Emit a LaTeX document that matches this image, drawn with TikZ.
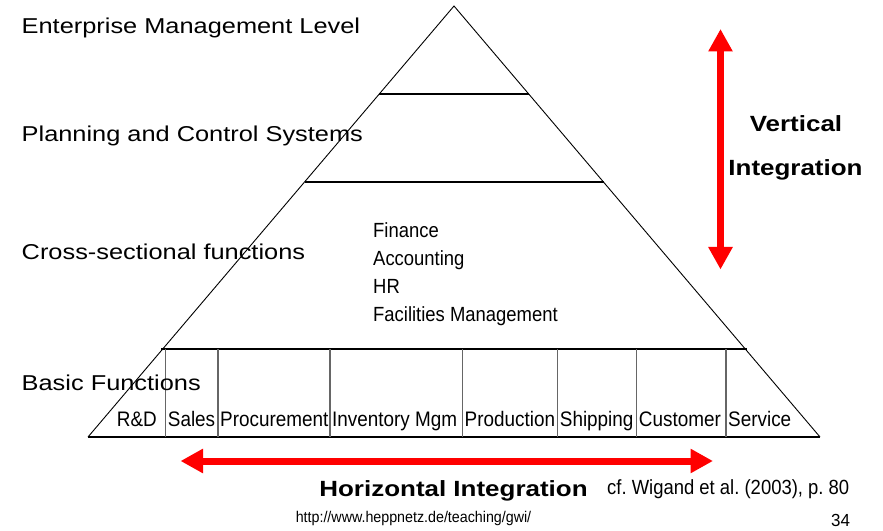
\documentclass[tikz,border=0pt]{standalone}
\usepackage{fontspec}
\setmainfont{Liberation Sans}
\newfontfamily\labfont[FakeStretch=1.18]{Liberation Sans}
\newfontfamily\narfont[FakeStretch=0.9]{Liberation Sans}
\usetikzlibrary{arrows.meta}
\frenchspacing
\tikzset{
  lvl/.style={font=\labfont\fontsize{21.5bp}{26bp}\selectfont, anchor=base west, inner sep=0pt},
  inner/.style={font=\narfont\fontsize{20.5bp}{24bp}\selectfont, anchor=base west, inner sep=0pt},
  cell/.style={font=\narfont\fontsize{21bp}{24bp}\selectfont, anchor=base west, inner sep=0pt},
  integ/.style={font=\labfont\bfseries\fontsize{22bp}{26bp}\selectfont, anchor=base, inner sep=0pt},
  side/.style={black, line width=0.9bp},
  levelline/.style={black, line width=1.8bp},
  divider/.style={black!60, line width=1.3bp},
  bigarrow/.style={red, line width=7bp, {Triangle[length=22.5bp,width=23bp]}-{Triangle[length=22.5bp,width=23bp]}},
}
\begin{document}
\begin{tikzpicture}[x=1bp, y=-1bp]
\useasboundingbox (0,0) rectangle (883,531);
% pyramid corners
\coordinate (apex) at (454,6);
\coordinate (bl) at (88,437);
\coordinate (br) at (820,437);
% level line end points
\coordinate (l1a) at (379.3,94);  \coordinate (l1b) at (528.7,94);
\coordinate (l2a) at (304.5,182); \coordinate (l2b) at (603.5,182);
\coordinate (l3a) at (161,349);   \coordinate (l3b) at (746.5,349);
% sides
\draw[side] (bl) -- (apex) -- (br);
% level lines
\draw[levelline] (l1a) -- (l1b);
\draw[levelline] (l2a) -- (l2b);
\draw[levelline] (l3a) -- (l3b);
\draw[levelline] (bl) -- (br);
% dividers
\foreach \x/\n in {165.7/a,218/b,330/c,462.5/d,557.7/e,636.7/f,726/g}{
  \coordinate (dt\n) at (\x,349);
  \coordinate (db\n) at (\x,437);
  \draw[divider] (dt\n) -- (db\n);
}
% level labels
\node[lvl] (enterprise) at (21.5,34) {Enterprise Management Level};
\node[lvl] (planning) at (21.5,142) {Planning and Control Systems};
\node[lvl] (cross) at (21.5,260) {Cross-sectional functions};
\node[lvl] (basic) at (21.5,390) {Basic Functions};
% cross-sectional list
\node[inner] (finance) at (373,238) {Finance};
\node[inner] (accounting) at (373,266) {Accounting};
\node[inner] (hr) at (373,294) {HR};
\node[inner] (facilities) at (373,322) {Facilities Management};
% basic function cells
\node[cell, anchor=base east] (rd) at (157,426) {R\&D};
\node[cell] (sales) at (167.7,426) {Sales};
\node[cell] (procurement) at (220,426) {Procurement};
\node[cell] (inventory) at (332,426) {Inventory Mgm};
\node[cell] (production) at (464.5,426) {Production};
\node[cell] (shipping) at (559.7,426) {Shipping};
\node[cell] (customer) at (638.7,426) {Customer};
\node[cell] (service) at (728,426) {Service};
% arrows
\coordinate (vtop) at (720.5,29);
\coordinate (vbot) at (720.5,269.5);
\draw[bigarrow] (vtop) -- (vbot);
\coordinate (hleft) at (180.5,461);
\coordinate (hright) at (713,461);
\draw[bigarrow] (hleft) -- (hright);
\node[integ] (vert1) at (796,132) {Vertical};
\node[integ] (vert2) at (795.5,176) {Integration};
\node[integ] (horiz) at (453.5,496) {Horizontal Integration};
% source and footer
\node[inner] (cf) at (607,494) {cf. Wigand et al. (2003), p. 80};
\node[anchor=base, inner sep=0pt, font=\fontsize{15.5bp}{18bp}\selectfont] (url) at (413.5,522.5) {\scalebox{0.92}[1]{http://www.heppnetz.de/teaching/gwi/}};
\node[anchor=base, inner sep=0pt, font=\fontsize{17.5bp}{20bp}\selectfont] (page) at (840.5,526) {\scalebox{0.97}[1]{34}};
\end{tikzpicture}
\end{document}
